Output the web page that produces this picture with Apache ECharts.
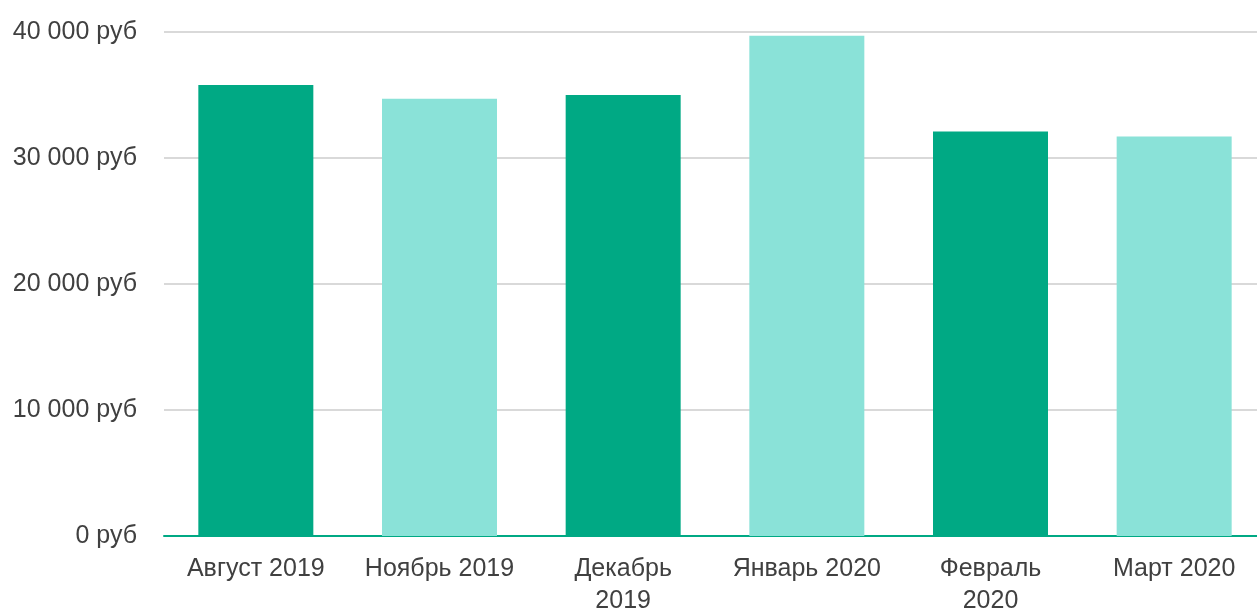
<!DOCTYPE html>
<html>
<head>
<meta charset="utf-8">
<style>
  html, body { margin: 0; padding: 0; background: #fff; }
  #chart { width: 1257px; height: 610px; }
</style>
<script src="https://cdn.jsdelivr.net/npm/echarts@6/dist/echarts.min.js"></script>
</head>
<body>
<div id="chart"></div>
<script>
// Monthly amounts, roubles
const months = ['Август 2019', 'Ноябрь 2019', 'Декабрь\n2019', 'Январь 2020', 'Февраль\n2020', 'Март 2020'];
const amounts = [35800, 34700, 35000, 39700, 32100, 31700];
const barColors = ['#00a984', '#8ae2d8', '#00a984', '#8ae2d8', '#00a984', '#8ae2d8'];
const yTicks = [0, 10000, 20000, 30000, 40000];

function formatRub(v) {
  return String(v).replace(/\B(?=(\d{3})+(?!\d))/g, ' ') + ' руб';
}

const chart = echarts.init(document.getElementById('chart'), null, { renderer: 'canvas' });
chart.setOption({
  animation: false,
  textStyle: { fontFamily: '"Liberation Sans", Arial, sans-serif' },
  // plot area runs slightly past the right edge of the canvas
  grid: { left: 164, right: -9, top: 32, bottom: 74, containLabel: false, outerBoundsMode: 'none' },
  xAxis: {
    type: 'category',
    data: months,
    axisLine: { show: true, lineStyle: { color: '#00a984', width: 2 } },
    axisTick: { show: false },
    axisLabel: {
      color: '#404040',
      fontSize: 25,
      lineHeight: 32,
      margin: 17,
      interval: 0
    }
  },
  yAxis: {
    type: 'value',
    min: yTicks[0],
    max: yTicks[yTicks.length - 1],
    interval: 10000,
    axisLine: { show: false },
    axisTick: { show: false },
    splitLine: { lineStyle: { color: '#d9d9d9', width: 2 } },
    axisLabel: {
      color: '#404040',
      fontSize: 25,
      margin: 27,
      formatter: formatRub
    }
  },
  series: [{
    type: 'bar',
    barWidth: 115,
    data: amounts.map((v, i) => ({ value: v, itemStyle: { color: barColors[i] } }))
  }]
});
</script>
</body>
</html>
